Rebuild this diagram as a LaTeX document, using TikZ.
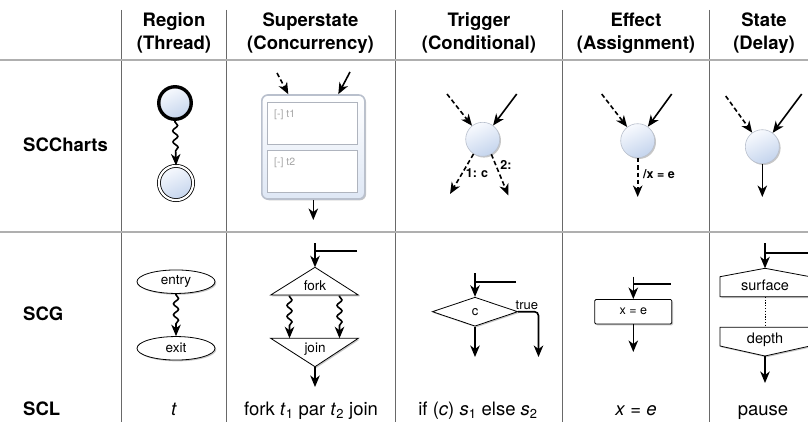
\documentclass[tikz,border=0pt]{standalone}
\usepackage{fontspec}
\setmainfont{TeX Gyre Heros}
\usetikzlibrary{arrows.meta,shapes.geometric,decorations.pathmorphing,shadows,calc}

\definecolor{stA}{RGB}{248,250,254}
\definecolor{stB}{RGB}{196,212,237}
\definecolor{gridV}{RGB}{105,105,105}
\definecolor{gridH}{RGB}{175,175,175}
\definecolor{rimC}{RGB}{185,192,205}
\definecolor{regTxt}{RGB}{165,165,165}
\definecolor{innerC}{RGB}{175,180,190}

\tikzset{
  arr/.style={line width=1.6pt, -{Stealth[length=11.5pt,width=9.5pt,inset=3.5pt]}},
  plainln/.style={line width=1.6pt},
  dsh/.style={dash pattern=on 4.5pt off 2.8pt},
  squig/.style={decorate, decoration={snake, amplitude=2.5pt, segment length=11pt,
      pre length=1pt, post length=11pt}},
  softshadow/.style={drop shadow={shadow xshift=1.3pt, shadow yshift=-1.3pt, opacity=0.22, fill=black}},
  st/.style={circle, minimum size=34pt, inner sep=0pt, draw=rimC, line width=0.6pt,
      top color=stA, bottom color=stB, shading angle=25, softshadow},
  initst/.style={circle, minimum size=32.5pt, inner sep=0pt, draw=black, line width=3.4pt,
      top color=stA, bottom color=stB, shading angle=25},
  finalst/.style={circle, minimum size=34.2pt, inner sep=0pt, draw=black, line width=0.8pt,
      double=white, double distance=2.2pt, top color=stA, bottom color=stB, shading angle=25, softshadow},
  hdr/.style={font=\fontsize{18.5}{22}\selectfont\bfseries, anchor=base, inner sep=0pt},
  rowlab/.style={font=\fontsize{18.5}{22}\selectfont\bfseries, anchor=base west, inner sep=0pt},
  scl/.style={font=\fontsize{18.5}{22}\selectfont, anchor=base, inner sep=0pt},
  lbl/.style={font=\fontsize{12.5}{14}\selectfont\bfseries, inner sep=0pt},
  regl/.style={font=\fontsize{10.5}{12}\selectfont, text=regTxt, anchor=west, inner sep=0pt},
  scgtxt/.style={font=\fontsize{13.5}{15}\selectfont, inner sep=0pt},
  scgshape/.style={draw=black, line width=0.8pt, fill=white, softshadow},
}

\begin{document}
\begin{tikzpicture}[x=1pt, y=-1pt]
\useasboundingbox (0,0) rectangle (808,422);
\fill[white] (0,0) rectangle (808,422);

% ---------- table grid ----------
\foreach \gx in {121.5,226,395.5,562.5,709}
  \draw[gridV, line width=0.9pt] (\gx,10) -- (\gx,422);
\draw[gridH, line width=1.4pt] (0,60) -- (808,60);
\draw[gridH, line width=1.4pt] (0,232) -- (808,232);

% ---------- column headers ----------
\node[hdr] (h1a) at (174,27) {Region};
\node[hdr] (h1b) at (174,50) {(Thread)};
\node[hdr] (h2a) at (310.5,27) {Superstate};
\node[hdr] (h2b) at (310.5,50) {(Concurrency)};
\node[hdr] (h3a) at (479,27) {Trigger};
\node[hdr] (h3b) at (479,50) {(Conditional)};
\node[hdr] (h4a) at (636,27) {Effect};
\node[hdr] (h4b) at (636,50) {(Assignment)};
\node[hdr] (h5a) at (764,27) {State};
\node[hdr] (h5b) at (764,50) {(Delay)};

% ---------- row labels ----------
\node[rowlab] (rSCC) at (23,152) {SCCharts};
\node[rowlab] (rSCG) at (23,320) {SCG};
\node[rowlab] (rSCL) at (23,415) {SCL};

% ================= SCCharts row =================
% region: initial state to final state
\node[initst] (rgInit) at (175,103) {};
\node[finalst] (rgFinal) at (176,183) {};
\draw[arr, squig] (rgInit.south) -- (rgFinal.north);

% superstate with two regions
\node[draw=rimC, line width=1.6pt, rounded corners=6pt, minimum width=103pt, minimum height=104pt,
      top color=white, bottom color=stB!55, softshadow] (sup) at (313.3,147) {};
\node[draw=innerC, line width=0.8pt, fill=white, minimum width=90pt, minimum height=42pt] (supR1) at (312.7,123.3) {};
\node[draw=innerC, line width=0.8pt, fill=white, minimum width=90pt, minimum height=42pt] (supR2) at (312.7,171.2) {};
\node[regl] (supL1) at (274,115) {[-] t1};
\node[regl] (supL2) at (274,162.5) {[-] t2};
\coordinate (supInD) at (277,73);
\coordinate (supInS) at (350,72);
\coordinate (supOut) at (313.3,220);
\draw[arr, dsh] (supInD) -- ($(sup.north)+(-25,0)$);
\draw[arr] (supInS) -- ($(sup.north)+(25,0)$);
\draw[arr] (sup.south) -- (supOut);

% trigger
\node[st] (trg) at (482.7,139.3) {};
\coordinate (trgInD) at (447,94);
\coordinate (trgInS) at (516.7,94);
\coordinate (trgOut1) at (450,194);
\coordinate (trgOut2) at (508.3,195.5);
\draw[arr, dsh] (trgInD) -- (trg);
\draw[arr] (trgInS) -- (trg);
\draw[arr, dsh] (trg.238) -- (trgOut1);
\draw[arr, dsh] (trg.300) -- (trgOut2);
\node[lbl] (trgL1) at (477,173) {1:\,\,c};
\node[lbl] (trgL2) at (506,164.5) {2:};

% effect
\node[st] (eff) at (637.7,140.7) {};
\coordinate (effInD) at (601.7,94);
\coordinate (effInS) at (671.7,94);
\coordinate (effOut) at (637.7,197);
\draw[arr, dsh] (effInD) -- (eff);
\draw[arr] (effInS) -- (eff);
\draw[arr, dsh] (eff.south) -- (effOut);
\node[lbl] (effL) at (659,174) {/x = e};

% state
\node[st] (sta) at (762.3,146.7) {};
\coordinate (staInD) at (725.7,96);
\coordinate (staInS) at (801.7,94);
\coordinate (staOut) at (762.3,197);
\draw[arr, dsh] (staInD) -- (sta);
\draw[arr] (staInS) -- (sta);
\draw[arr] (sta.south) -- (staOut);

% ================= SCG row =================
% region: entry / exit
\node[scgshape, ellipse, minimum width=78pt, minimum height=23.5pt, inner sep=0pt,
      font=\fontsize{13.5}{15}\selectfont] (gEntry) at (176,281.7) {entry};
\node[scgshape, ellipse, minimum width=78pt, minimum height=23.5pt, inner sep=0pt,
      font=\fontsize{13.5}{15}\selectfont] (gExit) at (176,348.3) {exit};
\draw[arr, squig] (gEntry.south) -- (gExit.north);

% fork / join
\coordinate (fkApex) at (315,267.3);
\coordinate (fkBL) at (270.7,295);
\coordinate (fkBR) at (358.3,295);
\coordinate (jnTL) at (270.7,338.3);
\coordinate (jnTR) at (358.3,338.3);
\coordinate (jnApex) at (315,366.7);
\filldraw[scgshape] (fkApex) -- (fkBR) -- (fkBL) -- cycle;
\filldraw[scgshape] (jnTL) -- (jnTR) -- (jnApex) -- cycle;
\node[scgtxt] (fkTxt) at (315,286) {fork};
\node[scgtxt] (jnTxt) at (315,349) {join};
\coordinate (fkInTop) at (315,243);
\coordinate (fkInSide) at (357,251);
\coordinate (fkInJoin) at (315,251);
\draw[arr] (fkInTop) -- (fkApex);
\draw[plainln] (fkInSide) -- (fkInJoin);
\coordinate (fkL) at (289.5,295.5);
\coordinate (fkR) at (339.5,295.5);
\coordinate (jnL) at (289.5,338.3);
\coordinate (jnR) at (339.5,338.3);
\draw[arr, squig] (fkL) -- (jnL);
\draw[arr, squig] (fkR) -- (jnR);
\coordinate (jnOut) at (315,387);
\draw[arr] (jnApex) -- (jnOut);

% conditional
\node[scgshape, diamond, aspect=2.9, minimum width=85.5pt, minimum height=29pt, inner sep=0pt,
      font=\fontsize{13}{15}\selectfont] (gCond) at (475,311.7) {c};
\coordinate (cdInTop) at (475,273.3);
\coordinate (cdInSide) at (516,281.7);
\coordinate (cdInJoin) at (475,281.7);
\draw[arr] (cdInTop) -- (gCond.north);
\draw[plainln] (cdInSide) -- (cdInJoin);
\coordinate (cdOutF) at (475,357);
\coordinate (cdOutT) at (538.5,357);
\draw[arr] (gCond.south) -- (cdOutF);
\draw[arr, rounded corners=4pt] (gCond.east) -| (cdOutT);
\node[scgtxt, anchor=south west, font=\fontsize{13}{15}\selectfont] (cdTrue) at (515.5,309.5) {true};

% assignment
\node[scgshape, rectangle, rounded corners=1.2pt, minimum width=77pt, minimum height=24.5pt, inner sep=0pt,
      font=\fontsize{12.5}{14}\selectfont] (gAsg) at (633.3,311.7) {x = e};
\coordinate (asInTop) at (633.3,276.7);
\coordinate (asInSide) at (670.7,284);
\coordinate (asInJoin) at (633.3,284);
\draw[arr] (asInTop) -- (gAsg.north);
\draw[plainln] (asInSide) -- (asInJoin);
\coordinate (asOut) at (633.3,352);
\draw[arr] (gAsg.south) -- (asOut);

% pause: surface / depth
\coordinate (sfApex) at (765,268.3);
\coordinate (dpApex) at (765,356);
\filldraw[scgshape] (sfApex) -- (810,276.7) -- (810,296.7) -- (720,296.7) -- (720,276.7) -- cycle;
\filldraw[scgshape] (720,327.3) -- (810,327.3) -- (810,346) -- (dpApex) -- (720,346) -- cycle;
\node[scgtxt, font=\fontsize{14.5}{16}\selectfont] (sfTxt) at (765,285.5) {surface};
\node[scgtxt, font=\fontsize{14.5}{16}\selectfont] (dpTxt) at (765,340) {depth};
\coordinate (sfBot) at (765,296.7);
\coordinate (dpTop) at (765,327.3);
\draw[line width=0.9pt, dash pattern=on 1.2pt off 1.6pt] (sfBot) -- (dpTop);
\coordinate (psInTop) at (765,243);
\coordinate (psInSide) at (810,252.7);
\coordinate (psInJoin) at (765,252.7);
\draw[arr] (psInTop) -- (sfApex);
\draw[plainln] (psInSide) -- (psInJoin);
\coordinate (psOut) at (765,383);
\draw[arr] (dpApex) -- (psOut);

% ================= SCL row =================
\node[scl] (lReg) at (174,415) {\textit{t}};
\node[scl] (lSup) at (311,415) {fork \textit{t}\textsubscript{1} par \textit{t}\textsubscript{2} join};
\node[scl] (lTrg) at (478,415) {if (\textit{c}) \textit{s}\textsubscript{1} else \textit{s}\textsubscript{2}};
\node[scl] (lEff) at (636,415) {\textit{x} = \textit{e}};
\node[scl] (lSta) at (763,415) {pause};
\end{tikzpicture}
\end{document}
